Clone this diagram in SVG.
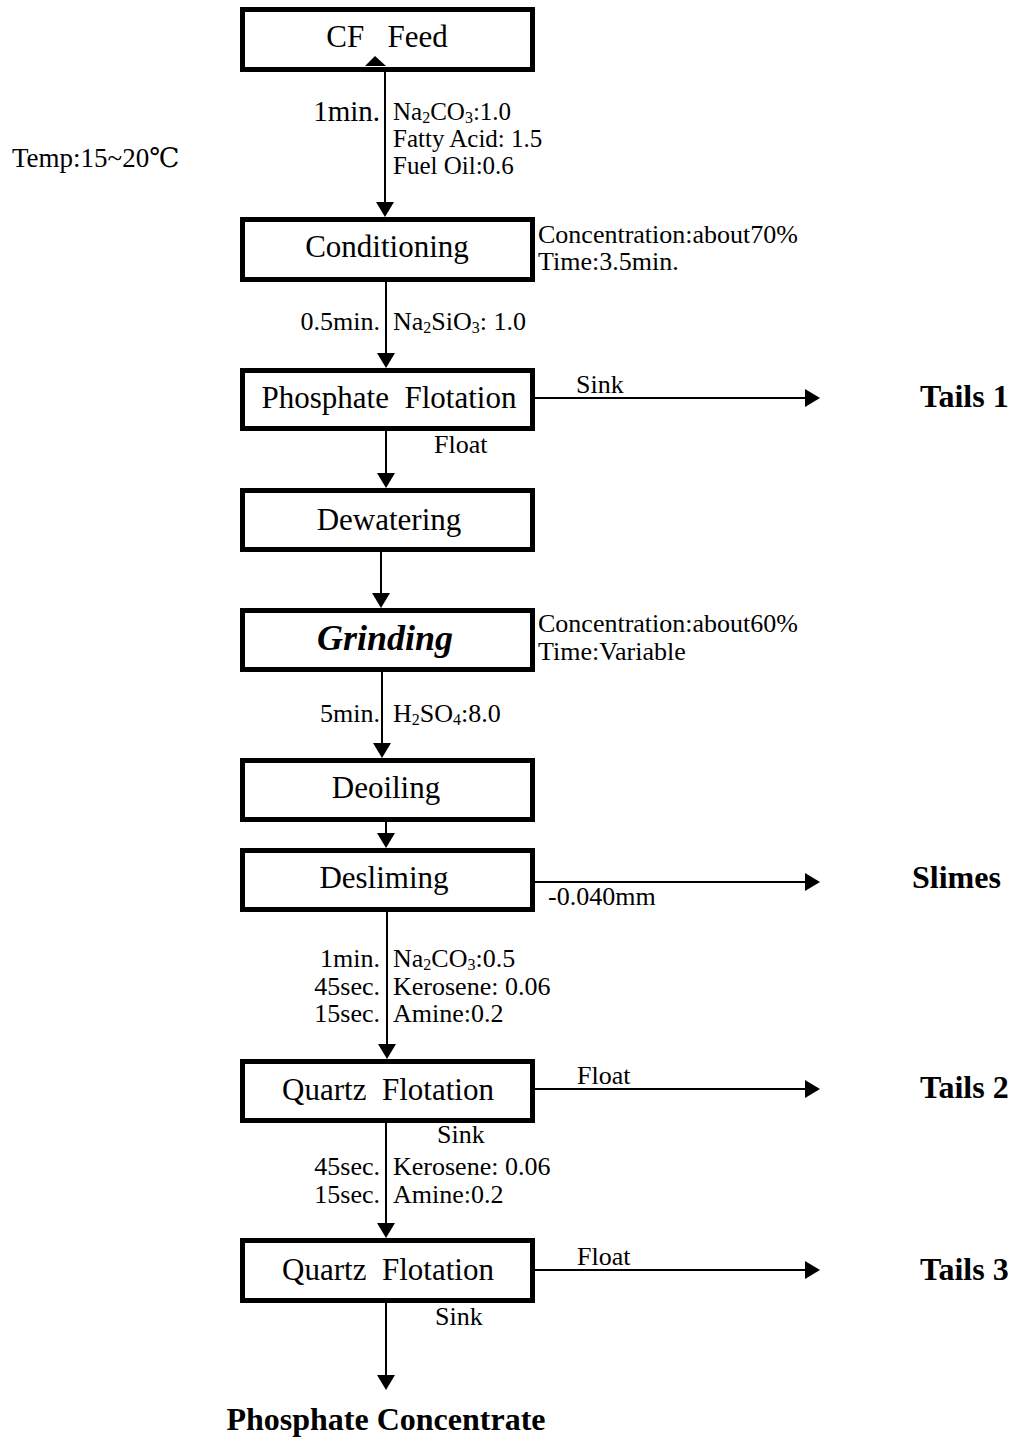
<svg xmlns="http://www.w3.org/2000/svg" width="1016" height="1439" viewBox="0 0 1016 1439">
  <style>
    text { font-family: "Liberation Serif", "DejaVu Serif", "Noto Sans CJK SC", serif; fill: #000; }
    .box { fill: #fff; stroke: #000; stroke-width: 5; }
    .lbl { font-size: 31px; text-anchor: middle; }
    .note { font-size: 26px; }
    .time { font-size: 26px; text-anchor: end; }
    .out { font-size: 32px; font-weight: bold; }
    .sub { font-size: 16px; }
    .flow line { stroke: #000; stroke-width: 2; marker-end: url(#ah); }
  </style>
  <defs>
    <marker id="ah" markerUnits="userSpaceOnUse" markerWidth="16" markerHeight="18" refX="5" refY="9" orient="auto">
      <path d="M0,0 L15,9 L0,18 Z" fill="#000"/>
    </marker>
  </defs>
  <rect width="1016" height="1439" fill="#fff"/>

  <!-- process units -->
  <g id="cf-feed">
    <rect class="box" x="242.5" y="9.5" width="290" height="60"/>
    <text class="lbl" x="387" y="47" xml:space="preserve">CF   Feed</text>
    <path d="M365,66 L375,56 L386,66 Z" fill="#000"/>
  </g>
  <g id="conditioning">
    <rect class="box" x="242.5" y="219.5" width="290" height="60"/>
    <text class="lbl" x="387" y="257">Conditioning</text>
  </g>
  <g id="phosphate-flotation">
    <rect class="box" x="242.5" y="370.5" width="290" height="58"/>
    <text class="lbl" x="389" y="408" xml:space="preserve">Phosphate  Flotation</text>
  </g>
  <g id="dewatering">
    <rect class="box" x="242.5" y="490.5" width="290" height="59"/>
    <text class="lbl" x="389" y="530">Dewatering</text>
  </g>
  <g id="grinding">
    <rect class="box" x="242.5" y="610.5" width="290" height="59"/>
    <text class="lbl" x="385" y="650" style="font-size:36px;font-weight:bold;font-style:italic">Grinding</text>
  </g>
  <g id="deoiling">
    <rect class="box" x="242.5" y="760.5" width="290" height="59"/>
    <text class="lbl" x="386" y="798">Deoiling</text>
  </g>
  <g id="desliming">
    <rect class="box" x="242.5" y="850.5" width="290" height="59"/>
    <text class="lbl" x="384" y="888">Desliming</text>
  </g>
  <g id="quartz-flotation-1">
    <rect class="box" x="242.5" y="1061.5" width="290" height="59"/>
    <text class="lbl" x="388" y="1100" xml:space="preserve">Quartz  Flotation</text>
  </g>
  <g id="quartz-flotation-2">
    <rect class="box" x="242.5" y="1240.5" width="290" height="60"/>
    <text class="lbl" x="388" y="1280" xml:space="preserve">Quartz  Flotation</text>
  </g>

  <!-- products -->
  <g id="tails-1"><text class="out" x="920" y="407">Tails 1</text></g>
  <g id="slimes"><text class="out" x="912" y="888">Slimes</text></g>
  <g id="tails-2"><text class="out" x="920" y="1098">Tails 2</text></g>
  <g id="tails-3"><text class="out" x="920" y="1280">Tails 3</text></g>
  <g id="phosphate-concentrate"><text class="out" x="386" y="1430" text-anchor="middle">Phosphate Concentrate</text></g>

  <!-- connectors -->
  <g class="flow" id="connectors">
    <line x1="385" y1="72" x2="385" y2="207"/>
    <line x1="386" y1="282" x2="386" y2="358"/>
    <line x1="386" y1="431" x2="386" y2="478"/>
    <line x1="381" y1="552" x2="381" y2="598"/>
    <line x1="382" y1="672" x2="382" y2="748"/>
    <line x1="386" y1="822" x2="386" y2="838"/>
    <line x1="387" y1="912" x2="387" y2="1049"/>
    <line x1="386" y1="1123" x2="386" y2="1228"/>
    <line x1="386" y1="1303" x2="386" y2="1380"/>
    <line x1="535" y1="398" x2="810" y2="398"/>
    <line x1="535" y1="882" x2="810" y2="882"/>
    <line x1="535" y1="1089" x2="810" y2="1089"/>
    <line x1="535" y1="1270" x2="810" y2="1270"/>
  </g>

  <!-- operating conditions and reagents -->
  <g id="annotations">
    <text class="note" x="12" y="167" style="font-size:27px">Temp:15~20℃</text>

    <text class="time" x="380" y="121" style="font-size:29px">1min.</text>
    <text class="note" x="393" y="120" style="font-size:25px">Na<tspan class="sub" dy="3">2</tspan><tspan dy="-3">CO</tspan><tspan class="sub" dy="3">3</tspan><tspan dy="-3">:1.0</tspan></text>
    <text class="note" x="393" y="147" style="font-size:25px">Fatty Acid: 1.5</text>
    <text class="note" x="393" y="174" style="font-size:25px">Fuel Oil:0.6</text>

    <text class="note" x="538" y="243">Concentration:about70%</text>
    <text class="note" x="538" y="270">Time:3.5min.</text>

    <text class="time" x="380" y="330">0.5min.</text>
    <text class="note" x="393" y="330">Na<tspan class="sub" dy="3">2</tspan><tspan dy="-3">SiO</tspan><tspan class="sub" dy="3">3</tspan><tspan dy="-3">: 1.0</tspan></text>

    <text class="note" x="576" y="393">Sink</text>
    <text class="note" x="434" y="453">Float</text>

    <text class="note" x="538" y="632">Concentration:about60%</text>
    <text class="note" x="538" y="660">Time:Variable</text>

    <text class="time" x="380" y="722">5min.</text>
    <text class="note" x="393" y="722">H<tspan class="sub" dy="3">2</tspan><tspan dy="-3">SO</tspan><tspan class="sub" dy="3">4</tspan><tspan dy="-3">:8.0</tspan></text>

    <text class="note" x="548" y="905">-0.040mm</text>

    <text class="time" x="380" y="967">1min.</text>
    <text class="time" x="380" y="995">45sec.</text>
    <text class="time" x="380" y="1022">15sec.</text>
    <text class="note" x="393" y="967">Na<tspan class="sub" dy="3">2</tspan><tspan dy="-3">CO</tspan><tspan class="sub" dy="3">3</tspan><tspan dy="-3">:0.5</tspan></text>
    <text class="note" x="393" y="995">Kerosene: 0.06</text>
    <text class="note" x="393" y="1022">Amine:0.2</text>

    <text class="note" x="577" y="1084">Float</text>
    <text class="note" x="437" y="1143">Sink</text>

    <text class="time" x="380" y="1175">45sec.</text>
    <text class="time" x="380" y="1203">15sec.</text>
    <text class="note" x="393" y="1175">Kerosene: 0.06</text>
    <text class="note" x="393" y="1203">Amine:0.2</text>

    <text class="note" x="577" y="1265">Float</text>
    <text class="note" x="435" y="1325">Sink</text>
  </g>
</svg>
